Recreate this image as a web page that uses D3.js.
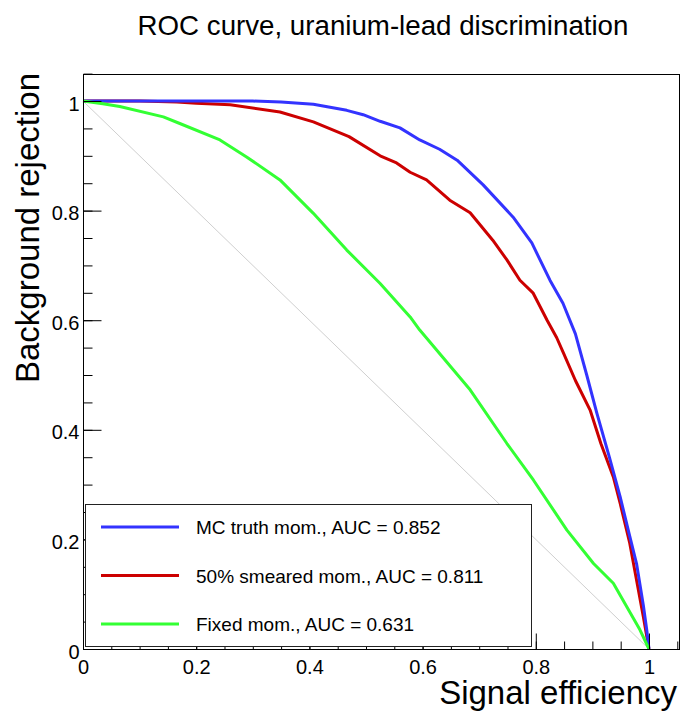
<!DOCTYPE html>
<html><head><meta charset="utf-8">
<script src="https://cdn.jsdelivr.net/npm/d3@7"></script>
<style>body{margin:0;background:#fff}svg{display:block}text{font-family:"Liberation Sans",Arial,Helvetica,sans-serif;fill:#000}</style>
</head><body>
<script>
const title = "ROC curve, uranium-lead discrimination";
const xLabel = "Signal efficiency";
const yLabel = "Background rejection";
const xTicks = [0, 0.2, 0.4, 0.6, 0.8, 1];
const yTicks = [0, 0.2, 0.4, 0.6, 0.8, 1];
const seriesNames = ["MC truth mom., AUC = 0.852", "50% smeared mom., AUC = 0.811", "Fixed mom., AUC = 0.631"];
const seriesColors = ["#3333ff", "#cc0000", "#33ff33"];
const blueX = [0,0.1,0.2,0.3,0.35,0.407,0.466,0.495,0.525,0.56,0.595,0.63,0.661,0.707,0.76,0.793,0.825,0.848,0.87,0.89,0.908,0.93,0.949,0.965,0.978,0.99,0.996,1];
const blueY = [1,1,1,1,0.998,0.994,0.983,0.975,0.963,0.951,0.929,0.912,0.892,0.847,0.788,0.741,0.673,0.631,0.575,0.5,0.43,0.35,0.278,0.21,0.156,0.08,0.035,0];
const redX = [0,0.1,0.166,0.2,0.26,0.348,0.407,0.47,0.525,0.554,0.578,0.607,0.648,0.684,0.724,0.749,0.772,0.795,0.82,0.837,0.849,0.87,0.896,0.915,0.937,0.949,0.966,0.99,1];
const redY = [1,1,0.998,0.996,0.993,0.98,0.962,0.935,0.9,0.887,0.87,0.856,0.819,0.796,0.746,0.71,0.673,0.65,0.6,0.568,0.54,0.49,0.436,0.375,0.314,0.266,0.193,0.059,0];
const greenX = [0,0.035,0.065,0.142,0.171,0.242,0.289,0.348,0.407,0.466,0.525,0.578,0.595,0.684,0.749,0.796,0.855,0.902,0.937,0.984,1];
const greenY = [1,0.995,0.99,0.971,0.959,0.929,0.898,0.856,0.795,0.728,0.667,0.606,0.582,0.473,0.375,0.308,0.217,0.156,0.12,0.035,0];

const W = 682, H = 711;
const L = 83, R = 680, T = 74, B = 649;
const svg = d3.select("body").append("svg").attr("width", W).attr("height", H);
const x = d3.scaleLinear().domain([0, 1.0548]).range([L, R]);
const y = d3.scaleLinear().domain([0, 1.0493]).range([B, T]);

// title
svg.append("text").attr("x", 383).attr("y", 35).attr("text-anchor", "middle").attr("font-size", 27.7).text(title);

// diagonal
svg.append("line").attr("x1", x(0)).attr("y1", y(1)).attr("x2", x(1)).attr("y2", y(0))
  .attr("stroke", "#cfcfcf").attr("stroke-width", 1);

// curves (draw order red, blue, green)
const line = d3.line().x(d => x(d[0])).y(d => y(d[1]));
const series = [d3.zip(blueX, blueY), d3.zip(redX, redY), d3.zip(greenX, greenY)];
[1, 0, 2].forEach(i => {
  svg.append("path").datum(series[i]).attr("d", line).attr("fill", "none")
    .attr("stroke", seriesColors[i]).attr("stroke-width", 3).attr("stroke-linejoin", "round");
});

// axes ticks
const minorX = d3.range(0, 1.0501, 0.05);
const minorY = d3.range(0, 1.0501, 0.05);
const gx = svg.append("g").attr("transform", `translate(0,${B + 0.5})`);
gx.call(d3.axisBottom(x).tickValues(minorX).tickSize(-8).tickFormat(""));
gx.call(g => g.select(".domain").remove());
const gx2 = svg.append("g").attr("transform", `translate(0,${B + 0.5})`);
gx2.call(d3.axisBottom(x).tickValues(xTicks).tickSize(-16).tickPadding(10).tickFormat(d3.format("~g")));
gx2.call(g => g.select(".domain").remove());
gx2.selectAll("text").attr("font-size", 20).attr("font-family", "Liberation Sans, Arial, sans-serif");

const gy = svg.append("g").attr("transform", `translate(${L + 0.5},0)`);
gy.call(d3.axisLeft(y).tickValues(minorY).tickSize(-9).tickFormat(""));
gy.call(g => g.select(".domain").remove());
const gy2 = svg.append("g").attr("transform", `translate(${L + 0.5},0)`);
gy2.call(d3.axisLeft(y).tickValues(yTicks).tickSize(-18).tickPadding(4).tickFormat(d3.format("~g")));
gy2.call(g => g.select(".domain").remove());
gy2.selectAll("text").attr("font-size", 20).attr("dy", "0.45em").attr("font-family", "Liberation Sans, Arial, sans-serif");
svg.selectAll(".tick line").attr("stroke", "#000");

// frame
svg.append("rect").attr("x", L + 0.5).attr("y", T + 0.5).attr("width", R - L - 1).attr("height", B - T)
  .attr("fill", "none").attr("stroke", "#000").attr("stroke-width", 1);

// legend
const lg = svg.append("g");
lg.append("rect").attr("x", 85.5).attr("y", 504.5).attr("width", 446).attr("height", 142)
  .attr("fill", "#fff").attr("stroke", "#222").attr("stroke-width", 1);
const legY = [527, 575.5, 624];
seriesNames.forEach((n, i) => {
  lg.append("line").attr("x1", 101).attr("x2", 179).attr("y1", legY[i]).attr("y2", legY[i])
    .attr("stroke", seriesColors[i]).attr("stroke-width", 3);
  lg.append("text").attr("x", 196).attr("y", legY[i] + 7).attr("font-size", 19).text(n);
});

// axis labels
svg.append("text").attr("x", 677).attr("y", 704).attr("text-anchor", "end").attr("font-size", 33).text(xLabel);
svg.append("text").attr("transform", "translate(39,73) rotate(-90)").attr("text-anchor", "end").attr("font-size", 33).text(yLabel);
</script>
</body></html>
